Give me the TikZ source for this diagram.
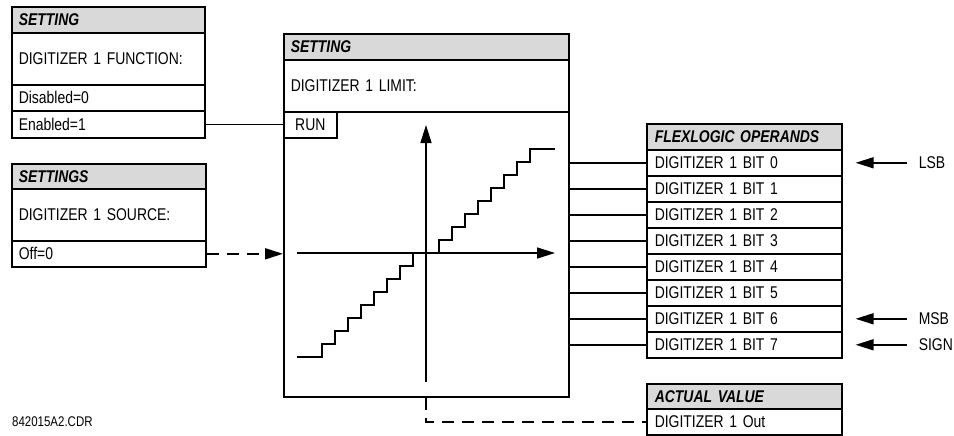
\documentclass[tikz,border=0pt]{standalone}
\usepackage{fontspec}
\setmainfont[FakeStretch=0.82, WordSpace=0.8]{Liberation Sans}
\usetikzlibrary{arrows.meta}
\begin{document}
\begin{tikzpicture}[x=1pt,y=-1pt,
  cell/.style={draw, line width=1.6pt, anchor=north west, inner xsep=7pt, inner ysep=0pt, align=left, font=\fontsize{17}{19}\selectfont},
  hdr/.style={cell, fill=gray!30, font=\fontsize{17}{19}\selectfont\bfseries\itshape},
  wire/.style={line width=1.5pt},
  dashwire/.style={line width=1.8pt, dash pattern=on 12pt off 8pt},
  arr/.style={-{Triangle[length=18pt,width=11pt]}},
  stair/.style={line width=2.5pt},
  lbl/.style={anchor=west, inner sep=0pt, font=\fontsize{17}{19}\selectfont}
]
\useasboundingbox (0,0) rectangle (954,436);

% left box 1
\node[hdr, minimum height=26pt, text width=179pt] (s1h) at (11,6) {SETTING};
\node[cell, minimum height=52pt, text width=179pt] (s1m) at (11,32) {DIGITIZER 1 FUNCTION:};
\node[cell, minimum height=26pt, text width=179pt] (s1d) at (11,84) {Disabled=0};
\node[cell, minimum height=27pt, text width=179pt] (s1e) at (11,110) {Enabled=1};

% left box 2
\node[hdr, minimum height=25pt, text width=180pt] (s2h) at (11,163) {SETTINGS};
\node[cell, minimum height=52pt, text width=180pt] (s2m) at (11,188) {DIGITIZER 1 SOURCE:};
\node[cell, minimum height=26pt, text width=180pt] (s2o) at (11,240) {Off=0};

% middle box
\node[hdr, minimum height=26pt, text width=271pt] (mh) at (283,33) {SETTING};
\node[cell, minimum height=52pt, text width=271pt] (mm) at (283,59) {DIGITIZER 1 LIMIT:};
\node[cell, minimum height=285pt, minimum width=285pt] (body) at (283,111) {};
\node[cell, minimum height=26pt, text width=39pt, align=center] (run) at (283,111) {RUN};

% axes
\coordinate (yb) at (426,382);
\coordinate (yt) at (426,125);
\coordinate (xl) at (297,253);
\coordinate (xr) at (555,253);
\draw[wire,arr] (yb) -- (yt);
\draw[wire,arr] (xl) -- (xr);

% staircase
\draw[stair] (297,357) -- (322,357)
  \foreach \i in {0,...,6} { -- ++(0,-13) -- ++(13,0) }
  -- ++(0,-13) -- ++(26,0)
  \foreach \i in {0,...,6} { -- ++(0,-13) -- ++(13,0) }
  -- ++(0,-13) -- ++(25,0);

% operands
\node[hdr, minimum height=26pt, text width=179pt, inner xsep=8pt] (oh) at (646,123) {FLEXLOGIC OPERANDS};
\foreach \i in {0,...,7} {
  \node[cell, minimum height=26pt, text width=179pt, inner xsep=8pt] (b\i) at (646,{149+26*\i}) {DIGITIZER 1 BIT \i};
  \draw[wire] (b\i.west -| body.east) -- (b\i.west);
}

% actual value
\node[hdr, minimum height=25pt, text width=179pt, inner xsep=8pt] (ah) at (646,383) {ACTUAL VALUE};
\node[cell, minimum height=26pt, text width=179pt, inner xsep=8pt] (ao) at (646,408) {DIGITIZER 1 Out};

% connectors
\draw[wire] (s1e.east) -- (s1e.east -| run.west);
\draw[dashwire, arr] (s2o.east) -- (s2o.east -| body.west);
\draw[dashwire] (body.south) |- (ao.west);

% side labels
\node[lbl] (lsb) at ([xshift=76pt]b0.east) {LSB};
\node[lbl] (msb) at ([xshift=76pt]b6.east) {MSB};
\node[lbl] (sign) at ([xshift=76pt]b7.east) {SIGN};
\draw[wire, arr] ([xshift=-12pt]lsb.west) -- ([xshift=13pt]b0.east);
\draw[wire, arr] ([xshift=-12pt]msb.west) -- ([xshift=13pt]b6.east);
\draw[wire, arr] ([xshift=-12pt]sign.west) -- ([xshift=13pt]b7.east);

% file name
\node[lbl, font=\fontsize{14}{16}\selectfont] (fn) at (12,422) {842015A2.CDR};
\end{tikzpicture}
\end{document}
